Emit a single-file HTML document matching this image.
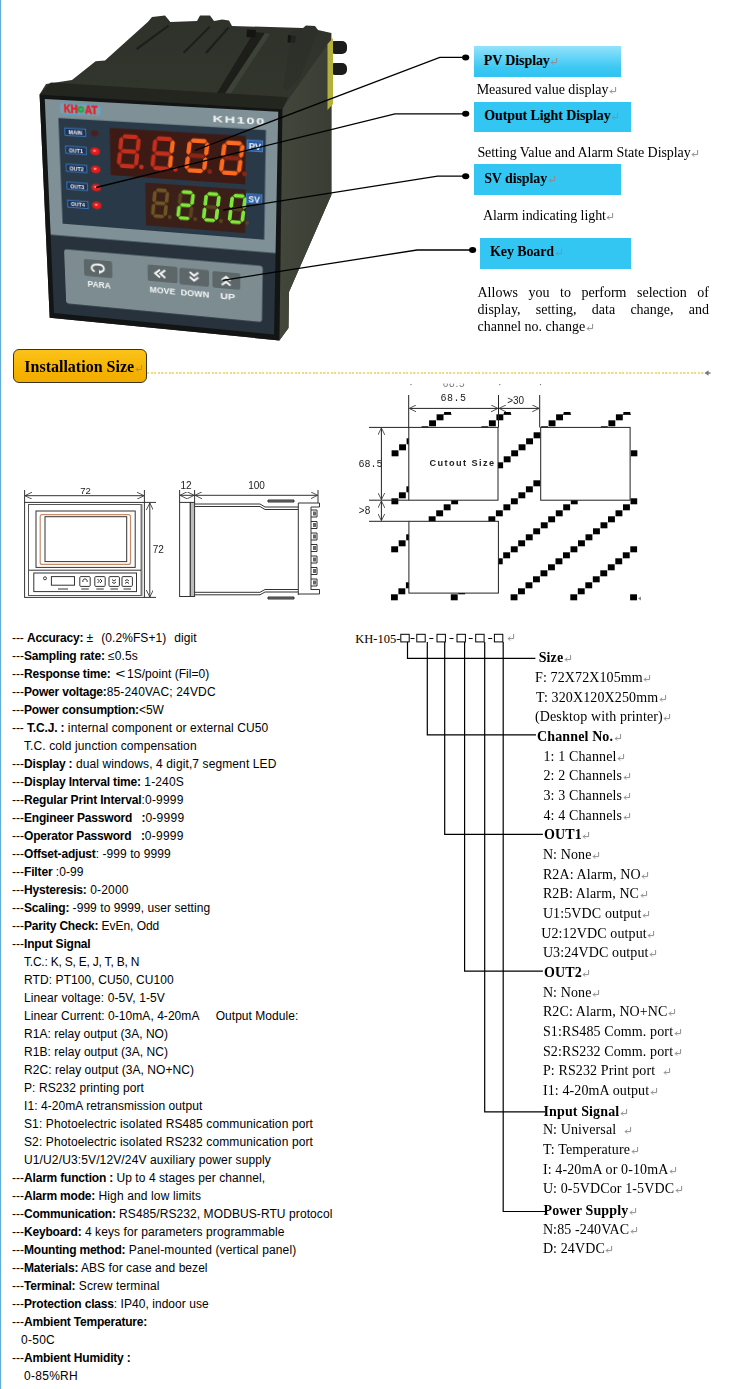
<!DOCTYPE html>
<html><head><meta charset="utf-8"><style>
*{margin:0;padding:0;box-sizing:border-box}
html,body{width:748px;height:1389px;overflow:hidden;background:#fff}
body{position:relative;font-family:"Liberation Sans",sans-serif;color:#000}
.a{position:absolute;white-space:pre}
.ser{font-family:"Liberation Serif",serif}
.spec{position:absolute;left:0;top:629px;font-size:12px;line-height:18px;color:#000}
.spec div{white-space:pre;height:18px}
.rt{position:absolute;font-family:"Liberation Serif",serif;font-size:14px;line-height:16px;white-space:pre;color:#000}
.ret{color:#9a9a9a;font-size:11px}
.rm{display:inline-block;vertical-align:baseline;margin-left:0.5px}
.box{position:absolute;background:#33c6f2;font-family:"Liberation Serif",serif;font-weight:bold;font-size:14px;line-height:16px;white-space:pre;letter-spacing:-0.1px}
</style></head><body>
<div class="a" style="left:0;top:0;width:1px;height:1389px;background:#62acd6"></div><div class="a" style="left:1px;top:0;width:1px;height:1389px;background:#e6f2f9"></div><svg class="a" style="left:0;top:0" width="360" height="350" viewBox="0 0 360 350"><defs><linearGradient id="hsTop" x1="0" y1="0" x2="0" y2="1"><stop offset="0" stop-color="#2e322a"/><stop offset="0.6" stop-color="#363b31"/><stop offset="1" stop-color="#3b4035"/></linearGradient><linearGradient id="hsSide" x1="0" y1="0" x2="1" y2="0"><stop offset="0" stop-color="#42463b"/><stop offset="1" stop-color="#3a3d33"/></linearGradient></defs><rect x="330" y="41" width="17" height="13" rx="5" fill="#1c1d1a"/><rect x="330" y="63" width="17" height="12" rx="5" fill="#1c1d1a"/><polygon points="46.0,84.0 72.0,80.0 95.6,61.2 105.0,60.4 148.0,21.8 152.0,17.0 165.0,15.5 170.4,22.0 197.0,21.0 200.0,15.5 210.0,15.5 214.0,21.0 217.0,20.5 222.0,19.5 229.0,20.5 232.0,26.0 303.0,28.0 306.0,25.6 315.0,26.0 318.0,30.0 331.4,33.0 331.4,195.0 289.0,292.0 288.5,328.0 279.4,340.4 49.7,317.8 39.6,94.4" fill="url(#hsTop)" /><polygon points="282.4,109.3 290.0,97.2 328.0,44.0 331.4,40.0 331.4,195.0 289.0,292.0 288.5,328.0 279.4,340.4" fill="url(#hsSide)" /><polygon points="327.5,44.0 333.0,38.0 333.0,104.0 327.5,110.0" fill="#b3b03c" /><line x1="168.6" y1="25.6" x2="136.7" y2="49" stroke="#1e1f1b" stroke-width="2.2"/><line x1="209.8" y1="26.7" x2="183.5" y2="53" stroke="#1e1f1b" stroke-width="2.2"/><line x1="228.5" y1="27.5" x2="206" y2="53" stroke="#1e1f1b" stroke-width="2.2"/><polygon points="254.0,32.0 265.0,33.0 225.0,93.5 217.0,93.0" fill="#1d1e1a" /><polygon points="265.0,33.0 270.0,34.0 231.0,93.5 225.0,93.5" fill="#3d4237" /><polygon points="247.0,29.4 256.0,30.0 255.0,37.4 246.5,37.0" fill="#141512" /><polygon points="288.0,35.0 296.0,36.0 295.0,43.0 287.5,42.5" fill="#141512" /><polygon points="292.0,30.0 318.0,31.0 300.0,78.0 288.0,90.0 283.0,88.0" fill="#2c2e28"  opacity="0.6"/><polygon points="39.6,94.4 50.8,82.4 288.0,97.2 282.4,109.3" fill="#23261f" /><polygon points="39.6,94.4 282.4,109.3 279.4,340.4 49.7,317.8" fill="#121514" /></svg><div class="a" style="left:0;top:0;width:234px;height:220px;transform-origin:0 0;transform:matrix3d(0.94358929,0.032653568,0,-0.00019355359,0.056556361,1.0581541,0,0.00027292925,0,0,1,0,44.8,99,0,1)"><svg width="234" height="220" viewBox="0 0 234 220" style="display:block"><rect x="0" y="0" width="234" height="137" fill="#7f9196"/><rect x="0" y="136.5" width="234" height="83.5" fill="#27323c"/><rect x="15.5" y="3" width="42" height="10.5" rx="3" fill="#8a9aa0" stroke="#4aa6d8" stroke-width="1"/><text x="19.5" y="12.2" font-family="Liberation Sans" font-weight="bold" font-size="10.5" fill="#e0222a" stroke="#e0222a" stroke-width="0.5" textLength="14.5" lengthAdjust="spacingAndGlyphs">KH</text><circle cx="37.3" cy="8.3" r="3.3" fill="#23a050"/><circle cx="37.3" cy="8.3" r="1.3" fill="#4cb870"/><text x="41.5" y="12.2" font-family="Liberation Sans" font-weight="bold" font-size="10.5" fill="#e0222a" stroke="#e0222a" stroke-width="0.5" textLength="13" lengthAdjust="spacingAndGlyphs">AT</text><text x="170.5" y="12.8" font-family="Liberation Sans" font-weight="bold" font-size="9.2" fill="#f4f6f6" textLength="52" lengthAdjust="spacingAndGlyphs" style="letter-spacing:1px">KH100</text><rect x="13.5" y="17.8" width="209" height="106.2" fill="#2a3947"/><rect x="19.8" y="27.2" width="21.8" height="7.1" fill="#1d3150" stroke="#3f7dc6" stroke-width="0.9"/><text x="30.7" y="32.8" font-family="Liberation Sans" font-weight="bold" font-size="5.6" fill="#f2f4f8" text-anchor="middle">MAIN</text><ellipse cx="50.8" cy="30.4" rx="4" ry="3" fill="#4a1f22"/><rect x="19.8" y="45.0" width="21.8" height="7.1" fill="#1d3150" stroke="#3f7dc6" stroke-width="0.9"/><text x="30.7" y="50.6" font-family="Liberation Sans" font-weight="bold" font-size="5.6" fill="#f2f4f8" text-anchor="middle">OUT1</text><ellipse cx="50.8" cy="48.4" rx="5.6" ry="4.2" fill="#ff2a22" opacity="0.3"/><ellipse cx="50.8" cy="48.4" rx="4.3" ry="3.3" fill="#f01818"/><ellipse cx="50.2" cy="47.8" rx="1.6" ry="1.1" fill="#ff8a80"/><rect x="19.8" y="63.0" width="21.8" height="7.1" fill="#1d3150" stroke="#3f7dc6" stroke-width="0.9"/><text x="30.7" y="68.6" font-family="Liberation Sans" font-weight="bold" font-size="5.6" fill="#f2f4f8" text-anchor="middle">OUT2</text><ellipse cx="50.8" cy="66.4" rx="5.6" ry="4.2" fill="#ff2a22" opacity="0.3"/><ellipse cx="50.8" cy="66.4" rx="4.3" ry="3.3" fill="#f01818"/><ellipse cx="50.2" cy="65.8" rx="1.6" ry="1.1" fill="#ff8a80"/><rect x="19.8" y="81.0" width="21.8" height="7.1" fill="#1d3150" stroke="#3f7dc6" stroke-width="0.9"/><text x="30.7" y="86.6" font-family="Liberation Sans" font-weight="bold" font-size="5.6" fill="#f2f4f8" text-anchor="middle">OUT3</text><ellipse cx="50.8" cy="84.5" rx="5.6" ry="4.2" fill="#ff2a22" opacity="0.3"/><ellipse cx="50.8" cy="84.5" rx="4.3" ry="3.3" fill="#f01818"/><ellipse cx="50.2" cy="83.9" rx="1.6" ry="1.1" fill="#ff8a80"/><rect x="19.8" y="99.3" width="21.8" height="7.1" fill="#1d3150" stroke="#3f7dc6" stroke-width="0.9"/><text x="30.7" y="104.9" font-family="Liberation Sans" font-weight="bold" font-size="5.6" fill="#f2f4f8" text-anchor="middle">OUT4</text><ellipse cx="50.8" cy="102.5" rx="5.6" ry="4.2" fill="#ff2a22" opacity="0.3"/><ellipse cx="50.8" cy="102.5" rx="4.3" ry="3.3" fill="#f01818"/><ellipse cx="50.2" cy="101.9" rx="1.6" ry="1.1" fill="#ff8a80"/><rect x="66.5" y="24.5" width="136.5" height="46.5" fill="#3e1a15"/><polygon points="79.19,31.95 81.62,29.80 94.02,29.80 95.89,31.95 93.46,34.10 81.06,34.10" fill="#c42e1c"/><polygon points="96.32,32.45 98.19,34.60 97.00,43.75 94.57,45.90 92.70,43.75 93.89,34.60" fill="#c42e1c"/><polygon points="94.44,46.90 96.31,49.05 95.12,58.20 92.69,60.35 90.82,58.20 92.01,49.05" fill="#c42e1c"/><polygon points="75.43,60.85 77.86,58.70 90.26,58.70 92.13,60.85 89.70,63.00 77.30,63.00" fill="#c42e1c"/><polygon points="76.74,46.90 78.61,49.05 77.42,58.20 74.99,60.35 73.12,58.20 74.31,49.05" fill="#c42e1c"/><polygon points="78.62,32.45 80.49,34.60 79.30,43.75 76.87,45.90 75.00,43.75 76.19,34.60" fill="#c42e1c"/><polygon points="77.31,46.40 79.74,44.25 92.14,44.25 94.01,46.40 91.58,48.55 79.18,48.55" fill="#c42e1c"/><circle cx="98.37" cy="60.85" r="2.37" fill="#c42e1c"/><polygon points="113.79,31.95 116.22,29.80 128.62,29.80 130.49,31.95 128.06,34.10 115.66,34.10" fill="#c42e1c"/><polygon points="130.92,32.45 132.79,34.60 131.60,43.75 129.17,45.90 127.30,43.75 128.49,34.60" fill="#ff6a1e"/><polygon points="129.04,46.90 130.91,49.05 129.72,58.20 127.29,60.35 125.42,58.20 126.61,49.05" fill="#ff6a1e"/><polygon points="110.03,60.85 112.46,58.70 124.86,58.70 126.73,60.85 124.30,63.00 111.90,63.00" fill="#c42e1c"/><polygon points="111.34,46.90 113.21,49.05 112.02,58.20 109.59,60.35 107.72,58.20 108.91,49.05" fill="#c42e1c"/><polygon points="113.22,32.45 115.09,34.60 113.90,43.75 111.47,45.90 109.60,43.75 110.79,34.60" fill="#c42e1c"/><polygon points="111.91,46.40 114.34,44.25 126.74,44.25 128.61,46.40 126.18,48.55 113.78,48.55" fill="#c42e1c"/><circle cx="132.97" cy="60.85" r="2.37" fill="#c42e1c"/><polygon points="148.39,31.95 150.82,29.80 163.22,29.80 165.09,31.95 162.66,34.10 150.26,34.10" fill="#ff6a1e"/><polygon points="165.52,32.45 167.39,34.60 166.20,43.75 163.77,45.90 161.90,43.75 163.09,34.60" fill="#ff6a1e"/><polygon points="163.64,46.90 165.51,49.05 164.32,58.20 161.89,60.35 160.02,58.20 161.21,49.05" fill="#ff6a1e"/><polygon points="144.63,60.85 147.06,58.70 159.46,58.70 161.33,60.85 158.90,63.00 146.50,63.00" fill="#ff6a1e"/><polygon points="145.94,46.90 147.81,49.05 146.62,58.20 144.19,60.35 142.32,58.20 143.51,49.05" fill="#ff6a1e"/><polygon points="147.82,32.45 149.69,34.60 148.50,43.75 146.07,45.90 144.20,43.75 145.39,34.60" fill="#ff6a1e"/><polygon points="146.51,46.40 148.94,44.25 161.34,44.25 163.21,46.40 160.78,48.55 148.38,48.55" fill="#8a2616"/><circle cx="167.57" cy="60.85" r="2.37" fill="#8a2616"/><polygon points="182.99,31.95 185.42,29.80 197.82,29.80 199.69,31.95 197.26,34.10 184.86,34.10" fill="#ff6a1e"/><polygon points="200.12,32.45 201.99,34.60 200.80,43.75 198.37,45.90 196.50,43.75 197.69,34.60" fill="#ff6a1e"/><polygon points="198.24,46.90 200.11,49.05 198.92,58.20 196.49,60.35 194.62,58.20 195.81,49.05" fill="#ff6a1e"/><polygon points="179.23,60.85 181.66,58.70 194.06,58.70 195.93,60.85 193.50,63.00 181.10,63.00" fill="#ff6a1e"/><polygon points="180.54,46.90 182.41,49.05 181.22,58.20 178.79,60.35 176.92,58.20 178.11,49.05" fill="#ff6a1e"/><polygon points="182.42,32.45 184.29,34.60 183.10,43.75 180.67,45.90 178.80,43.75 179.99,34.60" fill="#ff6a1e"/><polygon points="181.11,46.40 183.54,44.25 195.94,44.25 197.81,46.40 195.38,48.55 182.98,48.55" fill="#8a2616"/><circle cx="202.17" cy="60.85" r="2.37" fill="#8a2616"/><rect x="102" y="76" width="101.5" height="43" fill="#3a2018"/><polygon points="112.70,82.65 114.78,80.80 122.88,80.80 124.50,82.65 122.43,84.50 114.33,84.50" fill="#6e5424"/><polygon points="124.94,83.15 126.57,85.00 125.57,93.35 123.50,95.20 121.87,93.35 122.87,85.00" fill="#6e5424"/><polygon points="123.38,96.20 125.01,98.05 124.00,106.40 121.93,108.25 120.30,106.40 121.31,98.05" fill="#6e5424"/><polygon points="109.57,108.75 111.64,106.90 119.74,106.90 121.37,108.75 119.30,110.60 111.20,110.60" fill="#6e5424"/><polygon points="110.58,96.20 112.21,98.05 111.20,106.40 109.13,108.25 107.50,106.40 108.51,98.05" fill="#6e5424"/><polygon points="112.14,83.15 113.77,85.00 112.77,93.35 110.70,95.20 109.07,93.35 110.07,85.00" fill="#6e5424"/><polygon points="111.14,95.70 113.21,93.85 121.31,93.85 122.94,95.70 120.87,97.55 112.77,97.55" fill="#6e5424"/><circle cx="126.83" cy="108.75" r="2.04" fill="#5a4420"/><polygon points="138.80,82.65 140.88,80.80 148.98,80.80 150.60,82.65 148.53,84.50 140.43,84.50" fill="#7ee838"/><polygon points="151.04,83.15 152.67,85.00 151.67,93.35 149.60,95.20 147.97,93.35 148.97,85.00" fill="#7ee838"/><polygon points="149.48,96.20 151.11,98.05 150.10,106.40 148.03,108.25 146.40,106.40 147.41,98.05" fill="#5a4420"/><polygon points="135.67,108.75 137.74,106.90 145.84,106.90 147.47,108.75 145.40,110.60 137.30,110.60" fill="#7ee838"/><polygon points="136.68,96.20 138.31,98.05 137.30,106.40 135.23,108.25 133.60,106.40 134.61,98.05" fill="#7ee838"/><polygon points="138.24,83.15 139.87,85.00 138.87,93.35 136.80,95.20 135.17,93.35 136.17,85.00" fill="#5a4420"/><polygon points="137.24,95.70 139.31,93.85 147.41,93.85 149.04,95.70 146.97,97.55 138.87,97.55" fill="#7ee838"/><circle cx="152.93" cy="108.75" r="2.04" fill="#5a4420"/><polygon points="164.90,82.65 166.98,80.80 175.08,80.80 176.70,82.65 174.63,84.50 166.53,84.50" fill="#7ee838"/><polygon points="177.14,83.15 178.77,85.00 177.77,93.35 175.70,95.20 174.07,93.35 175.07,85.00" fill="#7ee838"/><polygon points="175.58,96.20 177.21,98.05 176.20,106.40 174.13,108.25 172.50,106.40 173.51,98.05" fill="#7ee838"/><polygon points="161.77,108.75 163.84,106.90 171.94,106.90 173.57,108.75 171.50,110.60 163.40,110.60" fill="#7ee838"/><polygon points="162.78,96.20 164.41,98.05 163.40,106.40 161.33,108.25 159.70,106.40 160.71,98.05" fill="#7ee838"/><polygon points="164.34,83.15 165.97,85.00 164.97,93.35 162.90,95.20 161.27,93.35 162.27,85.00" fill="#7ee838"/><polygon points="163.34,95.70 165.41,93.85 173.51,93.85 175.14,95.70 173.07,97.55 164.97,97.55" fill="#5a4420"/><circle cx="179.03" cy="108.75" r="2.04" fill="#5a4420"/><polygon points="191.00,82.65 193.08,80.80 201.18,80.80 202.80,82.65 200.73,84.50 192.63,84.50" fill="#7ee838"/><polygon points="203.24,83.15 204.87,85.00 203.87,93.35 201.80,95.20 200.17,93.35 201.17,85.00" fill="#7ee838"/><polygon points="201.68,96.20 203.31,98.05 202.30,106.40 200.23,108.25 198.60,106.40 199.61,98.05" fill="#7ee838"/><polygon points="187.87,108.75 189.94,106.90 198.04,106.90 199.67,108.75 197.60,110.60 189.50,110.60" fill="#7ee838"/><polygon points="188.88,96.20 190.51,98.05 189.50,106.40 187.43,108.25 185.80,106.40 186.81,98.05" fill="#7ee838"/><polygon points="190.44,83.15 192.07,85.00 191.07,93.35 189.00,95.20 187.37,93.35 188.37,85.00" fill="#7ee838"/><polygon points="189.44,95.70 191.51,93.85 199.61,93.85 201.24,95.70 199.17,97.55 191.07,97.55" fill="#5a4420"/><circle cx="205.13" cy="108.75" r="2.04" fill="#5a4420"/><rect x="204.6" y="28.2" width="15" height="10.3" fill="#2a5c9e" stroke="#4d8ad4" stroke-width="0.8"/><text x="212.1" y="37.1" font-family="Liberation Sans" font-weight="bold" font-size="9.2" fill="#f4f6fa" text-anchor="middle">PV</text><rect x="204.6" y="80.0" width="15" height="8.8" fill="#2a5c9e" stroke="#4d8ad4" stroke-width="0.8"/><text x="212.1" y="87.9" font-family="Liberation Sans" font-weight="bold" font-size="8.6" fill="#f4f6fa" text-anchor="middle">SV</text><rect x="14" y="150.6" width="207.5" height="57.6" rx="3" fill="#7c8c90"/><rect x="35.0" y="159.0" width="30.4" height="17.7" rx="2" fill="#5d6769"/><rect x="103.0" y="159.0" width="31.4" height="17.0" rx="2" fill="#5d6769"/><rect x="136.4" y="159.6" width="30.6" height="17.2" rx="2" fill="#5d6769"/><rect x="170.5" y="160.0" width="28.5" height="17.0" rx="2" fill="#5d6769"/><path d="M46.5 171 C42 170.5 41.5 164 50 163.5 C58 163.5 58 170 53 171" fill="none" stroke="#f4f6f6" stroke-width="2"/><path d="M51 169 L54.5 171.5 L51 173.5 Z" fill="#f4f6f6"/><path d="M116 163.5 L111 167.5 L116 171.5 M121.5 163.5 L116.5 167.5 L121.5 171.5" fill="none" stroke="#f4f6f6" stroke-width="2.2"/><path d="M147 163 L151.5 166.5 L156 163 M147 168 L151.5 171.5 L156 168" fill="none" stroke="#f4f6f6" stroke-width="2.2"/><path d="M180 168.5 L184.5 165 L189 168.5 M180 173.5 L184.5 170 L189 173.5" fill="none" stroke="#f4f6f6" stroke-width="2.2"/><text x="38.3" y="187.6" font-family="Liberation Sans" font-weight="bold" font-size="9.6" fill="#f4f6f6" textLength="25.0" lengthAdjust="spacingAndGlyphs">PARA</text><text x="104.8" y="188.0" font-family="Liberation Sans" font-weight="bold" font-size="9.6" fill="#f4f6f6" textLength="27.0" lengthAdjust="spacingAndGlyphs">MOVE</text><text x="137.5" y="188.2" font-family="Liberation Sans" font-weight="bold" font-size="9.6" fill="#f4f6f6" textLength="29.8" lengthAdjust="spacingAndGlyphs">DOWN</text><text x="178.5" y="188.5" font-family="Liberation Sans" font-weight="bold" font-size="9.6" fill="#f4f6f6" textLength="15.4" lengthAdjust="spacingAndGlyphs">UP</text></svg></div><svg class="a" style="left:0;top:0" width="748" height="350" viewBox="0 0 748 350"><polyline points="465.7,57.4 439.8,57.4 195.0,150.5" fill="none" stroke="#000" stroke-width="1.3"/><ellipse cx="465.7" cy="57.4" rx="3.6" ry="3" fill="#000"/><polyline points="465.7,113.8 395.0,113.8 96.0,187.5" fill="none" stroke="#000" stroke-width="1.3"/><ellipse cx="465.7" cy="113.8" rx="3.6" ry="3" fill="#000"/><polyline points="465.7,176.2 437.6,176.2 223.2,210.0" fill="none" stroke="#000" stroke-width="1.3"/><ellipse cx="465.7" cy="176.2" rx="3.6" ry="3" fill="#000"/><polyline points="472.6,250.0 417.1,250.0 222.5,280.3" fill="none" stroke="#000" stroke-width="1.3"/><ellipse cx="472.6" cy="250.0" rx="3.6" ry="3" fill="#000"/></svg><div class="box" style="left:473.7px;top:45.7px;width:147px;height:31px;background:linear-gradient(#93e3fb,#3cc8f3 70%,#2ec3f2)"><span style="position:absolute;left:10px;top:7px">PV Display<svg class="rm" width="8" height="7" viewBox="0 0 8 7"><path d="M6.6 0 V4.6 H1.2 M3.2 2.6 L1.2 4.6 L3.2 6.6" fill="none" stroke="#8e8e8e" stroke-width="1"/></svg></span></div><div class="box" style="left:473.7px;top:101.9px;width:157px;height:30.5px"><span style="position:absolute;left:10.5px;top:6.5px">Output Light Display<svg class="rm" width="8" height="7" viewBox="0 0 8 7"><path d="M6.6 0 V4.6 H1.2 M3.2 2.6 L1.2 4.6 L3.2 6.6" fill="none" stroke="#8e8e8e" stroke-width="1"/></svg></span></div><div class="box" style="left:473.7px;top:164px;width:147px;height:30.7px"><span style="position:absolute;left:10.5px;top:6.5px">SV display<svg class="rm" width="8" height="7" viewBox="0 0 8 7"><path d="M6.6 0 V4.6 H1.2 M3.2 2.6 L1.2 4.6 L3.2 6.6" fill="none" stroke="#8e8e8e" stroke-width="1"/></svg></span></div><div class="box" style="left:480px;top:238px;width:151px;height:30.5px"><span style="position:absolute;left:10px;top:5.5px">Key Board<svg class="rm" width="8" height="7" viewBox="0 0 8 7"><path d="M6.6 0 V4.6 H1.2 M3.2 2.6 L1.2 4.6 L3.2 6.6" fill="none" stroke="#8e8e8e" stroke-width="1"/></svg></span></div><div class="rt" style="left:476.7px;top:81.6px;font-size:14.0px;letter-spacing:-0.06px;">Measured value display<svg class="rm" width="8" height="7" viewBox="0 0 8 7"><path d="M6.6 0 V4.6 H1.2 M3.2 2.6 L1.2 4.6 L3.2 6.6" fill="none" stroke="#8e8e8e" stroke-width="1"/></svg></div><div class="rt" style="left:477.4px;top:144.5px;font-size:14.0px;letter-spacing:-0.06px;">Setting Value and Alarm State Display<svg class="rm" width="8" height="7" viewBox="0 0 8 7"><path d="M6.6 0 V4.6 H1.2 M3.2 2.6 L1.2 4.6 L3.2 6.6" fill="none" stroke="#8e8e8e" stroke-width="1"/></svg></div><div class="rt" style="left:483.0px;top:208.0px;font-size:14.0px;letter-spacing:-0.07px;">Alarm indicating light<svg class="rm" width="8" height="7" viewBox="0 0 8 7"><path d="M6.6 0 V4.6 H1.2 M3.2 2.6 L1.2 4.6 L3.2 6.6" fill="none" stroke="#8e8e8e" stroke-width="1"/></svg></div><div class="rt" style="left:477.5px;top:284.8px;width:231.5px;text-align:justify;text-align-last:justify;">Allows you to perform selection of</div><div class="rt" style="left:477.5px;top:301.8px;width:231.5px;text-align:justify;text-align-last:justify;">display, setting, data change, and</div><div class="rt" style="left:477.5px;top:318.8px;width:231.5px;">channel no. change<svg class="rm" width="8" height="7" viewBox="0 0 8 7"><path d="M6.6 0 V4.6 H1.2 M3.2 2.6 L1.2 4.6 L3.2 6.6" fill="none" stroke="#8e8e8e" stroke-width="1"/></svg></div><div class="a" style="left:12.5px;top:349.2px;width:134.2px;height:34.3px;border:1px solid #3d3420;border-radius:6px;background:linear-gradient(#fbc21a,#f6b400 60%,#f2ac00)"></div><div class="a ser" style="left:24.3px;top:357.8px;font-size:16px;font-weight:bold;line-height:18px">Installation Size<svg class="rm" width="8" height="7" viewBox="0 0 8 7"><path d="M6.6 0 V4.6 H1.2 M3.2 2.6 L1.2 4.6 L3.2 6.6" fill="none" stroke="#8e8e8e" stroke-width="1"/></svg></div><div class="a" style="left:147px;top:372.3px;width:558px;height:1.6px;background:repeating-linear-gradient(90deg,#f2dc82 0 2px,transparent 2.2px 3.6px)"></div><svg class="a" style="left:704px;top:369px" width="8" height="8"><path d="M0.5 4 L4.5 1.2 V6.8 Z" fill="#777"/><rect x="4" y="3.3" width="2.6" height="1.4" fill="#777"/></svg><svg class="a" style="left:0;top:380px" width="748" height="230" viewBox="0 380 748 230" font-family="Liberation Sans"><defs><marker id="ar" viewBox="0 0 10 10" refX="10" refY="5" markerWidth="7" markerHeight="7" orient="auto-start-reverse"><path d="M0 0 L10 5 L0 10" fill="none" stroke="#333" stroke-width="1.2"/></marker></defs><line x1="24.6" y1="490" x2="24.6" y2="503" stroke="#333" stroke-width="1" fill="none"/><line x1="144.4" y1="490" x2="144.4" y2="503" stroke="#333" stroke-width="1" fill="none"/><line x1="25" y1="495.7" x2="144" y2="495.7" stroke="#333" stroke-width="1" fill="none" marker-start="url(#ar)" marker-end="url(#ar)"/><text x="85.6" y="493.8" font-size="9.5" text-anchor="middle" fill="#222">72</text><rect x="24.6" y="502.4" width="119.8" height="95" stroke="#333" stroke-width="1" fill="none"/><rect x="28.5" y="504.5" width="113" height="91" stroke="#555" stroke-width="1" fill="none"/><line x1="141.5" y1="504" x2="141.5" y2="596" stroke="#777" stroke-width="2"/><rect x="36" y="511" width="99.2" height="56.4" stroke="#333" stroke-width="1" fill="none"/><rect x="40.2" y="514.6" width="90.3" height="49.8" rx="2" fill="none" stroke="#c98a68" stroke-width="1.2"/><rect x="45" y="516.7" width="81.7" height="44.9" stroke="#333" stroke-width="1" fill="none"/><line x1="29" y1="570.2" x2="141" y2="570.2" stroke="#333" stroke-width="1" fill="none"/><rect x="33.8" y="573" width="102.7" height="18.6" stroke="#333" stroke-width="1" fill="none"/><circle cx="45" cy="578.3" r="1.5" stroke="#333" stroke-width="1" fill="none"/><rect x="51.4" y="576.6" width="23.1" height="8.6" stroke="#333" stroke-width="1" fill="none"/><line x1="58" y1="589" x2="68" y2="589" stroke="#555" stroke-width="1.2"/><rect x="79.8" y="576.6" width="10.4" height="9.8" rx="1" stroke="#333" stroke-width="1" fill="none"/><line x1="81.3" y1="589" x2="88.8" y2="589" stroke="#555" stroke-width="1.2"/><rect x="94.8" y="576.6" width="10.4" height="9.8" rx="1" stroke="#333" stroke-width="1" fill="none"/><line x1="96.3" y1="589" x2="103.8" y2="589" stroke="#555" stroke-width="1.2"/><rect x="109.0" y="576.6" width="10.4" height="9.8" rx="1" stroke="#333" stroke-width="1" fill="none"/><line x1="110.5" y1="589" x2="118.0" y2="589" stroke="#555" stroke-width="1.2"/><rect x="122.0" y="576.6" width="10.4" height="9.8" rx="1" stroke="#333" stroke-width="1" fill="none"/><line x1="123.5" y1="589" x2="131.0" y2="589" stroke="#555" stroke-width="1.2"/><path d="M83 582 a2.2 2.2 0 1 1 4 0" stroke="#333" stroke-width="1" fill="none"/><path d="M97.5 579 l2 2 l-2 2 M100 579 l2 2 l-2 2" stroke="#333" stroke-width="1" fill="none"/><path d="M112 579.5 l2 1.5 l2 -1.5 M112 582 l2 1.5 l2 -1.5 M125 581 l2 -1.5 l2 1.5 M125 583.5 l2 -1.5 l2 1.5" stroke="#333" stroke-width="1" fill="none"/><line x1="144" y1="502.4" x2="156" y2="502.4" stroke="#333" stroke-width="1" fill="none"/><line x1="144" y1="597.4" x2="156" y2="597.4" stroke="#333" stroke-width="1" fill="none"/><line x1="149.8" y1="503" x2="149.8" y2="597" stroke="#333" stroke-width="1" fill="none" marker-start="url(#ar)" marker-end="url(#ar)"/><text x="158.3" y="552.5" font-size="10" text-anchor="middle" fill="#222">72</text><line x1="179.6" y1="490" x2="179.6" y2="502" stroke="#333" stroke-width="1" fill="none"/><line x1="194.6" y1="490" x2="194.6" y2="502" stroke="#333" stroke-width="1" fill="none"/><line x1="318" y1="490" x2="318" y2="503" stroke="#333" stroke-width="1" fill="none"/><line x1="180" y1="495.3" x2="194.2" y2="495.3" stroke="#333" stroke-width="1" fill="none" marker-start="url(#ar)" marker-end="url(#ar)"/><line x1="195" y1="495.3" x2="317.6" y2="495.3" stroke="#333" stroke-width="1" fill="none" marker-start="url(#ar)" marker-end="url(#ar)"/><text x="186" y="489.3" font-size="10" text-anchor="middle" fill="#222">12</text><text x="256.6" y="489" font-size="10" text-anchor="middle" fill="#222">100</text><rect x="179.6" y="502.4" width="10.7" height="94.1" stroke="#333" stroke-width="1" fill="none"/><rect x="190.3" y="502.4" width="4.3" height="94.1" stroke="#333" stroke-width="1" fill="#bbb"/><path d="M194.6 504 H260 L265 507 H298.3 M194.6 506.5 H260 L265 509.5 H298 M194.6 594.8 H260 L265 592 H298.3 M194.6 592.3 H260 L265 589.5 H298" stroke="#333" stroke-width="1" fill="none"/><line x1="298.3" y1="503" x2="298.3" y2="595" stroke="#333" stroke-width="1" fill="none"/><path d="M298.3 503 H319.5 V507 H311 M298.3 594 H319.5 V589.5 H311" stroke="#333" stroke-width="1" fill="none"/><path d="M268 502 h26 v-2 h-26 z M268 597 h26 v2 h-26z" stroke="#333" stroke-width="1" fill="#777"/><path d="M311 510.0 h6 v7 h-6" stroke="#333" stroke-width="1" fill="none"/><rect x="313" y="511.5" width="3" height="4" fill="#666"/><path d="M311 521.5 h6 v7 h-6" stroke="#333" stroke-width="1" fill="none"/><rect x="313" y="523.0" width="3" height="4" fill="#666"/><path d="M311 533.0 h6 v7 h-6" stroke="#333" stroke-width="1" fill="none"/><rect x="313" y="534.5" width="3" height="4" fill="#666"/><path d="M311 544.5 h6 v7 h-6" stroke="#333" stroke-width="1" fill="none"/><rect x="313" y="546.0" width="3" height="4" fill="#666"/><path d="M311 556.0 h6 v7 h-6" stroke="#333" stroke-width="1" fill="none"/><rect x="313" y="557.5" width="3" height="4" fill="#666"/><path d="M311 567.5 h6 v7 h-6" stroke="#333" stroke-width="1" fill="none"/><rect x="313" y="569.0" width="3" height="4" fill="#666"/><path d="M311 579.0 h6 v7 h-6" stroke="#333" stroke-width="1" fill="none"/><rect x="313" y="580.5" width="3" height="4" fill="#666"/><line x1="311" y1="507" x2="311" y2="590" stroke="#333" stroke-width="1" fill="none"/><clipPath id="hc"><path clip-rule="evenodd" d="M391 412 H637.5 V601 H391 Z M408.8 427.4 H498 V500.2 H408.8 Z M540.7 427.4 H630.1 V500.2 H540.7 Z M408.9 521.3 H498.4 V593.1 H408.9 Z"/></clipPath><g clip-path="url(#hc)" fill="#000"><rect x="391.8" y="402.3" width="6.9" height="6"/><rect x="391.6" y="450.3" width="6.9" height="6"/><rect x="399.1" y="444.3" width="6.9" height="6"/><rect x="406.6" y="438.3" width="6.9" height="6"/><rect x="414.1" y="432.3" width="6.9" height="6"/><rect x="421.6" y="426.3" width="6.9" height="6"/><rect x="429.1" y="420.3" width="6.9" height="6"/><rect x="436.6" y="414.3" width="6.9" height="6"/><rect x="443.5" y="413.8" width="8" height="1"/><rect x="444.1" y="408.3" width="6.9" height="6"/><rect x="451.6" y="402.3" width="6.9" height="6"/><rect x="391.4" y="498.3" width="6.9" height="6"/><rect x="398.9" y="492.3" width="6.9" height="6"/><rect x="406.4" y="486.3" width="6.9" height="6"/><rect x="413.9" y="480.3" width="6.9" height="6"/><rect x="421.4" y="474.3" width="6.9" height="6"/><rect x="428.9" y="468.3" width="6.9" height="6"/><rect x="436.4" y="462.3" width="6.9" height="6"/><rect x="443.9" y="456.3" width="6.9" height="6"/><rect x="451.4" y="450.3" width="6.9" height="6"/><rect x="458.9" y="444.3" width="6.9" height="6"/><rect x="466.4" y="438.3" width="6.9" height="6"/><rect x="473.9" y="432.3" width="6.9" height="6"/><rect x="481.4" y="426.3" width="6.9" height="6"/><rect x="488.9" y="420.3" width="6.9" height="6"/><rect x="496.4" y="414.3" width="6.9" height="6"/><rect x="503.3" y="413.8" width="8" height="1"/><rect x="503.9" y="408.3" width="6.9" height="6"/><rect x="511.3" y="402.3" width="6.9" height="6"/><rect x="391.2" y="546.3" width="6.9" height="6"/><rect x="398.7" y="540.3" width="6.9" height="6"/><rect x="406.2" y="534.3" width="6.9" height="6"/><rect x="413.7" y="528.3" width="6.9" height="6"/><rect x="421.2" y="522.3" width="6.9" height="6"/><rect x="428.7" y="516.3" width="6.9" height="6"/><rect x="436.2" y="510.3" width="6.9" height="6"/><rect x="443.7" y="504.3" width="6.9" height="6"/><rect x="451.2" y="498.3" width="6.9" height="6"/><rect x="458.7" y="492.3" width="6.9" height="6"/><rect x="466.2" y="486.3" width="6.9" height="6"/><rect x="473.7" y="480.3" width="6.9" height="6"/><rect x="481.2" y="474.3" width="6.9" height="6"/><rect x="488.7" y="468.3" width="6.9" height="6"/><rect x="496.2" y="462.3" width="6.9" height="6"/><rect x="503.7" y="456.3" width="6.9" height="6"/><rect x="511.2" y="450.3" width="6.9" height="6"/><rect x="518.6" y="444.3" width="6.9" height="6"/><rect x="526.1" y="438.3" width="6.9" height="6"/><rect x="533.6" y="432.3" width="6.9" height="6"/><rect x="541.1" y="426.3" width="6.9" height="6"/><rect x="548.6" y="420.3" width="6.9" height="6"/><rect x="556.1" y="414.3" width="6.9" height="6"/><rect x="563.1" y="413.8" width="8" height="1"/><rect x="563.6" y="408.3" width="6.9" height="6"/><rect x="571.1" y="402.3" width="6.9" height="6"/><rect x="390.9" y="594.3" width="6.9" height="6"/><rect x="398.4" y="588.3" width="6.9" height="6"/><rect x="405.9" y="582.3" width="6.9" height="6"/><rect x="413.4" y="576.3" width="6.9" height="6"/><rect x="420.9" y="570.3" width="6.9" height="6"/><rect x="428.4" y="564.3" width="6.9" height="6"/><rect x="435.9" y="558.3" width="6.9" height="6"/><rect x="443.4" y="552.3" width="6.9" height="6"/><rect x="450.9" y="546.3" width="6.9" height="6"/><rect x="458.4" y="540.3" width="6.9" height="6"/><rect x="465.9" y="534.3" width="6.9" height="6"/><rect x="473.4" y="528.3" width="6.9" height="6"/><rect x="480.9" y="522.3" width="6.9" height="6"/><rect x="488.4" y="516.3" width="6.9" height="6"/><rect x="495.9" y="510.3" width="6.9" height="6"/><rect x="503.4" y="504.3" width="6.9" height="6"/><rect x="510.9" y="498.3" width="6.9" height="6"/><rect x="518.4" y="492.3" width="6.9" height="6"/><rect x="525.9" y="486.3" width="6.9" height="6"/><rect x="533.4" y="480.3" width="6.9" height="6"/><rect x="540.9" y="474.3" width="6.9" height="6"/><rect x="548.4" y="468.3" width="6.9" height="6"/><rect x="555.9" y="462.3" width="6.9" height="6"/><rect x="563.4" y="456.3" width="6.9" height="6"/><rect x="570.9" y="450.3" width="6.9" height="6"/><rect x="578.4" y="444.3" width="6.9" height="6"/><rect x="585.9" y="438.3" width="6.9" height="6"/><rect x="593.4" y="432.3" width="6.9" height="6"/><rect x="600.9" y="426.3" width="6.9" height="6"/><rect x="608.4" y="420.3" width="6.9" height="6"/><rect x="615.9" y="414.3" width="6.9" height="6"/><rect x="622.9" y="413.8" width="8" height="1"/><rect x="623.4" y="408.3" width="6.9" height="6"/><rect x="630.9" y="402.3" width="6.9" height="6"/><rect x="450.8" y="594.3" width="6.9" height="6"/><rect x="458.2" y="588.3" width="6.9" height="6"/><rect x="465.8" y="582.3" width="6.9" height="6"/><rect x="473.2" y="576.3" width="6.9" height="6"/><rect x="480.8" y="570.3" width="6.9" height="6"/><rect x="488.2" y="564.3" width="6.9" height="6"/><rect x="495.8" y="558.3" width="6.9" height="6"/><rect x="503.2" y="552.3" width="6.9" height="6"/><rect x="510.8" y="546.3" width="6.9" height="6"/><rect x="518.2" y="540.3" width="6.9" height="6"/><rect x="525.8" y="534.3" width="6.9" height="6"/><rect x="533.2" y="528.3" width="6.9" height="6"/><rect x="540.8" y="522.3" width="6.9" height="6"/><rect x="548.2" y="516.3" width="6.9" height="6"/><rect x="555.8" y="510.3" width="6.9" height="6"/><rect x="563.2" y="504.3" width="6.9" height="6"/><rect x="570.8" y="498.3" width="6.9" height="6"/><rect x="578.2" y="492.3" width="6.9" height="6"/><rect x="585.8" y="486.3" width="6.9" height="6"/><rect x="593.2" y="480.3" width="6.9" height="6"/><rect x="600.8" y="474.3" width="6.9" height="6"/><rect x="608.2" y="468.3" width="6.9" height="6"/><rect x="615.8" y="462.3" width="6.9" height="6"/><rect x="623.2" y="456.3" width="6.9" height="6"/><rect x="630.8" y="450.3" width="6.9" height="6"/><rect x="510.6" y="594.3" width="6.9" height="6"/><rect x="518.0" y="588.3" width="6.9" height="6"/><rect x="525.5" y="582.3" width="6.9" height="6"/><rect x="533.0" y="576.3" width="6.9" height="6"/><rect x="540.5" y="570.3" width="6.9" height="6"/><rect x="548.0" y="564.3" width="6.9" height="6"/><rect x="555.5" y="558.3" width="6.9" height="6"/><rect x="563.0" y="552.3" width="6.9" height="6"/><rect x="570.5" y="546.3" width="6.9" height="6"/><rect x="578.0" y="540.3" width="6.9" height="6"/><rect x="585.5" y="534.3" width="6.9" height="6"/><rect x="593.0" y="528.3" width="6.9" height="6"/><rect x="600.5" y="522.3" width="6.9" height="6"/><rect x="608.0" y="516.3" width="6.9" height="6"/><rect x="615.5" y="510.3" width="6.9" height="6"/><rect x="623.0" y="504.3" width="6.9" height="6"/><rect x="630.5" y="498.3" width="6.9" height="6"/><rect x="570.3" y="594.3" width="6.9" height="6"/><rect x="577.8" y="588.3" width="6.9" height="6"/><rect x="585.3" y="582.3" width="6.9" height="6"/><rect x="592.8" y="576.3" width="6.9" height="6"/><rect x="600.3" y="570.3" width="6.9" height="6"/><rect x="607.8" y="564.3" width="6.9" height="6"/><rect x="615.3" y="558.3" width="6.9" height="6"/><rect x="622.8" y="552.3" width="6.9" height="6"/><rect x="630.3" y="546.3" width="6.9" height="6"/><rect x="630.1" y="594.3" width="6.9" height="6"/></g><rect x="408.8" y="427.4" width="89.2" height="72.8" stroke="#222" stroke-width="1" fill="none"/><rect x="540.7" y="427.4" width="89.4" height="72.8" stroke="#222" stroke-width="1" fill="none"/><rect x="408.9" y="521.3" width="89.5" height="71.8" stroke="#222" stroke-width="1" fill="none"/><line x1="369" y1="427.4" x2="408.8" y2="427.4" stroke="#222" stroke-width="1" fill="none"/><line x1="369" y1="500.2" x2="408.8" y2="500.2" stroke="#222" stroke-width="1" fill="none"/><line x1="369" y1="521.3" x2="408.8" y2="521.3" stroke="#222" stroke-width="1" fill="none"/><line x1="381.4" y1="428" x2="381.4" y2="499.6" stroke="#222" stroke-width="1" fill="none" marker-start="url(#ar)" marker-end="url(#ar)"/><line x1="381.4" y1="501" x2="381.4" y2="520.6" stroke="#222" stroke-width="1" fill="none" marker-start="url(#ar)" marker-end="url(#ar)"/><line x1="408.7" y1="395" x2="408.7" y2="427.4" stroke="#222" stroke-width="1" fill="none"/><line x1="498.5" y1="395" x2="498.5" y2="427.4" stroke="#222" stroke-width="1" fill="none"/><line x1="539.7" y1="395" x2="539.7" y2="427.4" stroke="#222" stroke-width="1" fill="none"/><line x1="409.3" y1="408.4" x2="497.9" y2="408.4" stroke="#222" stroke-width="1" fill="none" marker-start="url(#ar)" marker-end="url(#ar)"/><line x1="499.1" y1="408.4" x2="539.1" y2="408.4" stroke="#222" stroke-width="1" fill="none" marker-start="url(#ar)" marker-end="url(#ar)"/><text x="453.5" y="400.5" font-family="Liberation Mono" font-size="10" text-anchor="middle" fill="#222" letter-spacing="0.5">68.5</text><text x="515.7" y="404" font-size="10" text-anchor="middle" fill="#222">&gt;30</text><text x="370.5" y="466.7" font-family="Liberation Mono" font-size="10" text-anchor="middle" fill="#222">68.5</text><text x="364.5" y="514" font-size="10" text-anchor="middle" fill="#222">&gt;8</text><text x="462.5" y="466.3" font-size="9.2" font-weight="bold" text-anchor="middle" fill="#222" letter-spacing="1.4">Cutout Size</text><circle cx="411" cy="384.6" r="0.7" fill="#666"/><circle cx="499.8" cy="384.6" r="0.7" fill="#666"/><circle cx="540.5" cy="384.6" r="0.7" fill="#666"/><text x="454" y="386.6" font-size="10" text-anchor="middle" fill="#777" letter-spacing="0.8">68.5</text><rect x="380" y="380" width="200" height="3.6" fill="#fff"/><path d="M638 598.5 l3 -2 v4 z" fill="#888"/></svg><div class="spec"><div style="padding-left:12px"><span style="letter-spacing:-0.081px">--- </span><b style="letter-spacing:-0.206px">Accuracy:</b><span style="letter-spacing:0.073px"> &plusmn;<i style="display:inline-block;width:12px;text-align:right;font-style:normal;letter-spacing:0">(</i>0.2%FS+1<i style="display:inline-block;width:12px;text-align:left;font-style:normal;letter-spacing:0">)</i>digit</span></div><div style="padding-left:12px"><span style="letter-spacing:0.004px">---</span><b style="letter-spacing:-0.191px">Sampling rate:</b><span style="letter-spacing:0.066px"> &le;0.5s</span></div><div style="padding-left:12px"><span style="letter-spacing:0.004px">---</span><b style="letter-spacing:-0.204px">Response time:</b><span style="letter-spacing:0.045px"> <i style="display:inline-block;width:13px;text-align:center;font-style:normal;letter-spacing:0;transform:scaleX(1.4)">&lt;</i>1S/point (Fil=0)</span></div><div style="padding-left:12px"><span style="letter-spacing:0.004px">---</span><b style="letter-spacing:-0.195px">Power voltage:</b><span style="letter-spacing:0.163px">85-240VAC; 24VDC</span></div><div style="padding-left:12px"><span style="letter-spacing:0.004px">---</span><b style="letter-spacing:-0.211px">Power consumption:</b><span style="letter-spacing:-0.003px">&lt;5W</span></div><div style="padding-left:12px"><span style="letter-spacing:-0.081px">--- </span><b style="letter-spacing:-0.160px">T.C.J. :</b><span style="letter-spacing:0.127px"> internal component or external CU50</span></div><div style="padding-left:24px"><span style="letter-spacing:0.105px">T.C. cold junction compensation</span></div><div style="padding-left:12px"><span style="letter-spacing:0.004px">---</span><b style="letter-spacing:-0.178px">Display :</b><span style="letter-spacing:0.108px"> dual windows, 4 digit,7 segment LED</span></div><div style="padding-left:12px"><span style="letter-spacing:0.004px">---</span><b style="letter-spacing:-0.176px">Display Interval time:</b><span style="letter-spacing:0.139px"> 1-240S</span></div><div style="padding-left:12px"><span style="letter-spacing:0.004px">---</span><b style="letter-spacing:-0.177px">Regular Print Interval</b><span style="letter-spacing:0.186px">:0-9999</span></div><div style="padding-left:12px"><span style="letter-spacing:0.004px">---</span><b style="letter-spacing:-0.191px">Engineer Password   :</b><span style="letter-spacing:0.272px">0-9999</span></div><div style="padding-left:12px"><span style="letter-spacing:0.004px">---</span><b style="letter-spacing:-0.190px">Operator Password   :</b><span style="letter-spacing:0.272px">0-9999</span></div><div style="padding-left:12px"><span style="letter-spacing:0.004px">---</span><b style="letter-spacing:-0.182px">Offset-adjust</b><span style="letter-spacing:0.067px">: -999 to 9999</span></div><div style="padding-left:12px"><span style="letter-spacing:0.004px">---</span><b style="letter-spacing:-0.156px">Filter</b><span style="letter-spacing:0.052px"> :0-99</span></div><div style="padding-left:12px"><span style="letter-spacing:0.004px">---</span><b style="letter-spacing:-0.188px">Hysteresis:</b><span style="letter-spacing:0.186px"> 0-2000</span></div><div style="padding-left:12px"><span style="letter-spacing:0.004px">---</span><b style="letter-spacing:-0.187px">Scaling:</b><span style="letter-spacing:0.058px"> -999 to 9999, user setting</span></div><div style="padding-left:12px"><span style="letter-spacing:0.004px">---</span><b style="letter-spacing:-0.189px">Parity Check:</b><span style="letter-spacing:-0.037px"> EvEn, Odd</span></div><div style="padding-left:12px"><span style="letter-spacing:0.004px">---</span><b style="letter-spacing:-0.183px">Input Signal</b></div><div style="padding-left:24px"><span style="letter-spacing:-0.214px">T.C.: K, S, E, J, T, B, N</span></div><div style="padding-left:24px"><span style="letter-spacing:0.085px">RTD: PT100, CU50, CU100</span></div><div style="padding-left:24px"><span style="letter-spacing:0.099px">Linear voltage: 0-5V, 1-5V</span></div><div style="padding-left:24px"><span style="letter-spacing:0.045px">Linear Current: 0-10mA, 4-20mA     Output Module:</span></div><div style="padding-left:24px"><span style="letter-spacing:0.023px">R1A: relay output (3A, NO)</span></div><div style="padding-left:24px"><span style="letter-spacing:0.049px">R1B: relay output (3A, NC)</span></div><div style="padding-left:24px"><span style="letter-spacing:0.055px">R2C: relay output (3A, NO+NC)</span></div><div style="padding-left:24px"><span style="letter-spacing:0.088px">P: RS232 printing port</span></div><div style="padding-left:24px"><span style="letter-spacing:0.070px">I1: 4-20mA retransmission output</span></div><div style="padding-left:24px"><span style="letter-spacing:0.108px">S1: Photoelectric isolated RS485 communication port</span></div><div style="padding-left:24px"><span style="letter-spacing:0.108px">S2: Photoelectric isolated RS232 communication port</span></div><div style="padding-left:24px"><span style="letter-spacing:0.132px">U1/U2/U3:5V/12V/24V auxiliary power supply</span></div><div style="padding-left:12px"><span style="letter-spacing:0.004px">---</span><b style="letter-spacing:-0.184px">Alarm function :</b><span style="letter-spacing:0.068px"> Up to 4 stages per channel,</span></div><div style="padding-left:12px"><span style="letter-spacing:0.004px">---</span><b style="letter-spacing:-0.213px">Alarm mode:</b><span style="letter-spacing:0.131px"> High and low limits</span></div><div style="padding-left:12px"><span style="letter-spacing:0.004px">---</span><b style="letter-spacing:-0.216px">Communication:</b><span style="letter-spacing:0.089px"> RS485/RS232, MODBUS-RTU protocol</span></div><div style="padding-left:12px"><span style="letter-spacing:0.004px">---</span><b style="letter-spacing:-0.211px">Keyboard:</b><span style="letter-spacing:0.083px"> 4 keys for parameters programmable</span></div><div style="padding-left:12px"><span style="letter-spacing:0.004px">---</span><b style="letter-spacing:-0.209px">Mounting method:</b><span style="letter-spacing:0.137px"> Panel-mounted (vertical panel)</span></div><div style="padding-left:12px"><span style="letter-spacing:0.004px">---</span><b style="letter-spacing:-0.179px">Materials:</b><span style="letter-spacing:0.055px"> ABS for case and bezel</span></div><div style="padding-left:12px"><span style="letter-spacing:0.004px">---</span><b style="letter-spacing:-0.192px">Terminal:</b><span style="letter-spacing:0.087px"> Screw terminal</span></div><div style="padding-left:12px"><span style="letter-spacing:0.004px">---</span><b style="letter-spacing:-0.185px">Protection class</b><span style="letter-spacing:0.052px">: IP40, indoor use</span></div><div style="padding-left:12px"><span style="letter-spacing:0.004px">---</span><b style="letter-spacing:-0.205px">Ambient Temperature:</b></div><div style="padding-left:21px"><span style="letter-spacing:0.263px">0-50C</span></div><div style="padding-left:12px"><span style="letter-spacing:0.004px">---</span><b style="letter-spacing:-0.196px">Ambient Humidity :</b></div><div style="padding-left:24px"><span style="letter-spacing:0.283px">0-85%RH</span></div></div><div class="rt" style="left:355.3px;top:630.9px;font-size:12.5px;">KH-105-</div><svg class="a" style="left:0;top:0" width="748" height="1389" viewBox="0 0 748 1389"><rect x="400.8" y="634.3" width="8.4" height="7.6" fill="none" stroke="#000" stroke-width="1"/><rect x="416.8" y="634.3" width="8.4" height="7.6" fill="none" stroke="#000" stroke-width="1"/><rect x="437.0" y="634.3" width="8.4" height="7.6" fill="none" stroke="#000" stroke-width="1"/><rect x="457.0" y="634.3" width="8.4" height="7.6" fill="none" stroke="#000" stroke-width="1"/><rect x="475.7" y="634.3" width="8.4" height="7.6" fill="none" stroke="#000" stroke-width="1"/><rect x="494.4" y="634.3" width="8.4" height="7.6" fill="none" stroke="#000" stroke-width="1"/><line x1="410.5" y1="638.5" x2="414.5" y2="638.5" stroke="#000" stroke-width="1"/><line x1="429.3" y1="638.5" x2="433.3" y2="638.5" stroke="#000" stroke-width="1"/><line x1="449.5" y1="638.5" x2="453.5" y2="638.5" stroke="#000" stroke-width="1"/><line x1="468.7" y1="638.5" x2="472.7" y2="638.5" stroke="#000" stroke-width="1"/><line x1="488.2" y1="638.5" x2="492.2" y2="638.5" stroke="#000" stroke-width="1"/><polyline points="407.5,642 407.5,658.4 535.4,658.4" fill="none" stroke="#000" stroke-width="1.2"/><polyline points="427.3,642 427.3,734.8 536.0,734.8" fill="none" stroke="#000" stroke-width="1.2"/><polyline points="444.7,642 444.7,834.4 542.9,834.4" fill="none" stroke="#000" stroke-width="1.2"/><polyline points="464.6,642 464.6,971.1 542.9,971.1" fill="none" stroke="#000" stroke-width="1.2"/><polyline points="484.7,642 484.7,1111.8 545.0,1111.8" fill="none" stroke="#000" stroke-width="1.2"/><polyline points="503.2,642 503.2,1211.5 545.0,1211.5" fill="none" stroke="#000" stroke-width="1.2"/></svg><div class="a" style="left:506px;top:634px;line-height:0"><svg class="rm" width="8" height="7" viewBox="0 0 8 7"><path d="M6.6 0 V4.6 H1.2 M3.2 2.6 L1.2 4.6 L3.2 6.6" fill="none" stroke="#8e8e8e" stroke-width="1"/></svg></div><div class="rt" style="left:538.7px;top:650.4px;font-size:14.0px;font-weight:bold;letter-spacing:0.12px;">Size<svg class="rm" width="8" height="7" viewBox="0 0 8 7"><path d="M6.6 0 V4.6 H1.2 M3.2 2.6 L1.2 4.6 L3.2 6.6" fill="none" stroke="#8e8e8e" stroke-width="1"/></svg></div><div class="rt" style="left:535.0px;top:670.0px;font-size:14.0px;letter-spacing:0.12px;">F: 72X72X105mm<svg class="rm" width="8" height="7" viewBox="0 0 8 7"><path d="M6.6 0 V4.6 H1.2 M3.2 2.6 L1.2 4.6 L3.2 6.6" fill="none" stroke="#8e8e8e" stroke-width="1"/></svg></div><div class="rt" style="left:536.0px;top:689.7px;font-size:14.0px;letter-spacing:0.12px;">T: 320X120X250mm<svg class="rm" width="8" height="7" viewBox="0 0 8 7"><path d="M6.6 0 V4.6 H1.2 M3.2 2.6 L1.2 4.6 L3.2 6.6" fill="none" stroke="#8e8e8e" stroke-width="1"/></svg></div><div class="rt" style="left:535.0px;top:709.4px;font-size:14.0px;letter-spacing:0.12px;">(Desktop with printer)<svg class="rm" width="8" height="7" viewBox="0 0 8 7"><path d="M6.6 0 V4.6 H1.2 M3.2 2.6 L1.2 4.6 L3.2 6.6" fill="none" stroke="#8e8e8e" stroke-width="1"/></svg></div><div class="rt" style="left:537.1px;top:729.0px;font-size:14.0px;font-weight:bold;letter-spacing:0.12px;">Channel No.<svg class="rm" width="8" height="7" viewBox="0 0 8 7"><path d="M6.6 0 V4.6 H1.2 M3.2 2.6 L1.2 4.6 L3.2 6.6" fill="none" stroke="#8e8e8e" stroke-width="1"/></svg></div><div class="rt" style="left:543.5px;top:748.7px;font-size:14.0px;letter-spacing:0.12px;">1: 1 Channel<svg class="rm" width="8" height="7" viewBox="0 0 8 7"><path d="M6.6 0 V4.6 H1.2 M3.2 2.6 L1.2 4.6 L3.2 6.6" fill="none" stroke="#8e8e8e" stroke-width="1"/></svg></div><div class="rt" style="left:543.5px;top:768.3px;font-size:14.0px;letter-spacing:0.12px;">2: 2 Channels<svg class="rm" width="8" height="7" viewBox="0 0 8 7"><path d="M6.6 0 V4.6 H1.2 M3.2 2.6 L1.2 4.6 L3.2 6.6" fill="none" stroke="#8e8e8e" stroke-width="1"/></svg></div><div class="rt" style="left:543.5px;top:788.0px;font-size:14.0px;letter-spacing:0.12px;">3: 3 Channels<svg class="rm" width="8" height="7" viewBox="0 0 8 7"><path d="M6.6 0 V4.6 H1.2 M3.2 2.6 L1.2 4.6 L3.2 6.6" fill="none" stroke="#8e8e8e" stroke-width="1"/></svg></div><div class="rt" style="left:543.5px;top:807.7px;font-size:14.0px;letter-spacing:0.12px;">4: 4 Channels<svg class="rm" width="8" height="7" viewBox="0 0 8 7"><path d="M6.6 0 V4.6 H1.2 M3.2 2.6 L1.2 4.6 L3.2 6.6" fill="none" stroke="#8e8e8e" stroke-width="1"/></svg></div><div class="rt" style="left:544.0px;top:827.3px;font-size:14.0px;font-weight:bold;letter-spacing:0.12px;">OUT1<svg class="rm" width="8" height="7" viewBox="0 0 8 7"><path d="M6.6 0 V4.6 H1.2 M3.2 2.6 L1.2 4.6 L3.2 6.6" fill="none" stroke="#8e8e8e" stroke-width="1"/></svg></div><div class="rt" style="left:542.9px;top:847.0px;font-size:14.0px;letter-spacing:0.12px;">N: None<svg class="rm" width="8" height="7" viewBox="0 0 8 7"><path d="M6.6 0 V4.6 H1.2 M3.2 2.6 L1.2 4.6 L3.2 6.6" fill="none" stroke="#8e8e8e" stroke-width="1"/></svg></div><div class="rt" style="left:542.9px;top:866.6px;font-size:14.0px;letter-spacing:0.12px;">R2A: Alarm, NO<svg class="rm" width="8" height="7" viewBox="0 0 8 7"><path d="M6.6 0 V4.6 H1.2 M3.2 2.6 L1.2 4.6 L3.2 6.6" fill="none" stroke="#8e8e8e" stroke-width="1"/></svg></div><div class="rt" style="left:542.9px;top:886.3px;font-size:14.0px;letter-spacing:0.12px;">R2B: Alarm, NC<svg class="rm" width="8" height="7" viewBox="0 0 8 7"><path d="M6.6 0 V4.6 H1.2 M3.2 2.6 L1.2 4.6 L3.2 6.6" fill="none" stroke="#8e8e8e" stroke-width="1"/></svg></div><div class="rt" style="left:542.9px;top:906.0px;font-size:14.0px;letter-spacing:0.12px;">U1:5VDC output<svg class="rm" width="8" height="7" viewBox="0 0 8 7"><path d="M6.6 0 V4.6 H1.2 M3.2 2.6 L1.2 4.6 L3.2 6.6" fill="none" stroke="#8e8e8e" stroke-width="1"/></svg></div><div class="rt" style="left:541.2px;top:925.6px;font-size:14.0px;letter-spacing:0.12px;">U2:12VDC output<svg class="rm" width="8" height="7" viewBox="0 0 8 7"><path d="M6.6 0 V4.6 H1.2 M3.2 2.6 L1.2 4.6 L3.2 6.6" fill="none" stroke="#8e8e8e" stroke-width="1"/></svg></div><div class="rt" style="left:542.9px;top:945.3px;font-size:14.0px;letter-spacing:0.12px;">U3:24VDC output<svg class="rm" width="8" height="7" viewBox="0 0 8 7"><path d="M6.6 0 V4.6 H1.2 M3.2 2.6 L1.2 4.6 L3.2 6.6" fill="none" stroke="#8e8e8e" stroke-width="1"/></svg></div><div class="rt" style="left:544.0px;top:964.9px;font-size:14.0px;font-weight:bold;letter-spacing:0.12px;">OUT2<svg class="rm" width="8" height="7" viewBox="0 0 8 7"><path d="M6.6 0 V4.6 H1.2 M3.2 2.6 L1.2 4.6 L3.2 6.6" fill="none" stroke="#8e8e8e" stroke-width="1"/></svg></div><div class="rt" style="left:542.9px;top:984.6px;font-size:14.0px;letter-spacing:0.12px;">N: None<svg class="rm" width="8" height="7" viewBox="0 0 8 7"><path d="M6.6 0 V4.6 H1.2 M3.2 2.6 L1.2 4.6 L3.2 6.6" fill="none" stroke="#8e8e8e" stroke-width="1"/></svg></div><div class="rt" style="left:542.9px;top:1004.3px;font-size:14.0px;letter-spacing:0.12px;">R2C: Alarm, NO+NC<svg class="rm" width="8" height="7" viewBox="0 0 8 7"><path d="M6.6 0 V4.6 H1.2 M3.2 2.6 L1.2 4.6 L3.2 6.6" fill="none" stroke="#8e8e8e" stroke-width="1"/></svg></div><div class="rt" style="left:542.9px;top:1023.9px;font-size:14.0px;letter-spacing:0.12px;">S1:RS485 Comm. port<svg class="rm" width="8" height="7" viewBox="0 0 8 7"><path d="M6.6 0 V4.6 H1.2 M3.2 2.6 L1.2 4.6 L3.2 6.6" fill="none" stroke="#8e8e8e" stroke-width="1"/></svg></div><div class="rt" style="left:542.9px;top:1043.6px;font-size:14.0px;letter-spacing:0.12px;">S2:RS232 Comm. port<svg class="rm" width="8" height="7" viewBox="0 0 8 7"><path d="M6.6 0 V4.6 H1.2 M3.2 2.6 L1.2 4.6 L3.2 6.6" fill="none" stroke="#8e8e8e" stroke-width="1"/></svg></div><div class="rt" style="left:542.9px;top:1063.2px;font-size:14.0px;letter-spacing:0.12px;">P: RS232 Print port  <svg class="rm" width="8" height="7" viewBox="0 0 8 7"><path d="M6.6 0 V4.6 H1.2 M3.2 2.6 L1.2 4.6 L3.2 6.6" fill="none" stroke="#8e8e8e" stroke-width="1"/></svg></div><div class="rt" style="left:542.9px;top:1082.9px;font-size:14.0px;letter-spacing:0.12px;">I1: 4-20mA output<svg class="rm" width="8" height="7" viewBox="0 0 8 7"><path d="M6.6 0 V4.6 H1.2 M3.2 2.6 L1.2 4.6 L3.2 6.6" fill="none" stroke="#8e8e8e" stroke-width="1"/></svg></div><div class="rt" style="left:543.5px;top:1104.1px;font-size:14.0px;font-weight:bold;letter-spacing:0.12px;">Input Signal<svg class="rm" width="8" height="7" viewBox="0 0 8 7"><path d="M6.6 0 V4.6 H1.2 M3.2 2.6 L1.2 4.6 L3.2 6.6" fill="none" stroke="#8e8e8e" stroke-width="1"/></svg></div><div class="rt" style="left:542.9px;top:1122.2px;font-size:14.0px;letter-spacing:0.12px;">N: Universal  <svg class="rm" width="8" height="7" viewBox="0 0 8 7"><path d="M6.6 0 V4.6 H1.2 M3.2 2.6 L1.2 4.6 L3.2 6.6" fill="none" stroke="#8e8e8e" stroke-width="1"/></svg></div><div class="rt" style="left:542.9px;top:1141.9px;font-size:14.0px;letter-spacing:0.12px;">T: Temperature<svg class="rm" width="8" height="7" viewBox="0 0 8 7"><path d="M6.6 0 V4.6 H1.2 M3.2 2.6 L1.2 4.6 L3.2 6.6" fill="none" stroke="#8e8e8e" stroke-width="1"/></svg></div><div class="rt" style="left:542.9px;top:1161.5px;font-size:14.0px;letter-spacing:0.12px;">I: 4-20mA or 0-10mA<svg class="rm" width="8" height="7" viewBox="0 0 8 7"><path d="M6.6 0 V4.6 H1.2 M3.2 2.6 L1.2 4.6 L3.2 6.6" fill="none" stroke="#8e8e8e" stroke-width="1"/></svg></div><div class="rt" style="left:542.9px;top:1181.2px;font-size:14.0px;letter-spacing:0.12px;">U: 0-5VDCor 1-5VDC<svg class="rm" width="8" height="7" viewBox="0 0 8 7"><path d="M6.6 0 V4.6 H1.2 M3.2 2.6 L1.2 4.6 L3.2 6.6" fill="none" stroke="#8e8e8e" stroke-width="1"/></svg></div><div class="rt" style="left:543.5px;top:1203.4px;font-size:14.0px;font-weight:bold;letter-spacing:0.12px;">Power Supply<svg class="rm" width="8" height="7" viewBox="0 0 8 7"><path d="M6.6 0 V4.6 H1.2 M3.2 2.6 L1.2 4.6 L3.2 6.6" fill="none" stroke="#8e8e8e" stroke-width="1"/></svg></div><div class="rt" style="left:542.9px;top:1222.0px;font-size:14.0px;letter-spacing:0.12px;">N:85 -240VAC<svg class="rm" width="8" height="7" viewBox="0 0 8 7"><path d="M6.6 0 V4.6 H1.2 M3.2 2.6 L1.2 4.6 L3.2 6.6" fill="none" stroke="#8e8e8e" stroke-width="1"/></svg></div><div class="rt" style="left:542.9px;top:1240.7px;font-size:14.0px;letter-spacing:0.12px;">D: 24VDC<svg class="rm" width="8" height="7" viewBox="0 0 8 7"><path d="M6.6 0 V4.6 H1.2 M3.2 2.6 L1.2 4.6 L3.2 6.6" fill="none" stroke="#8e8e8e" stroke-width="1"/></svg></div></body></html>
